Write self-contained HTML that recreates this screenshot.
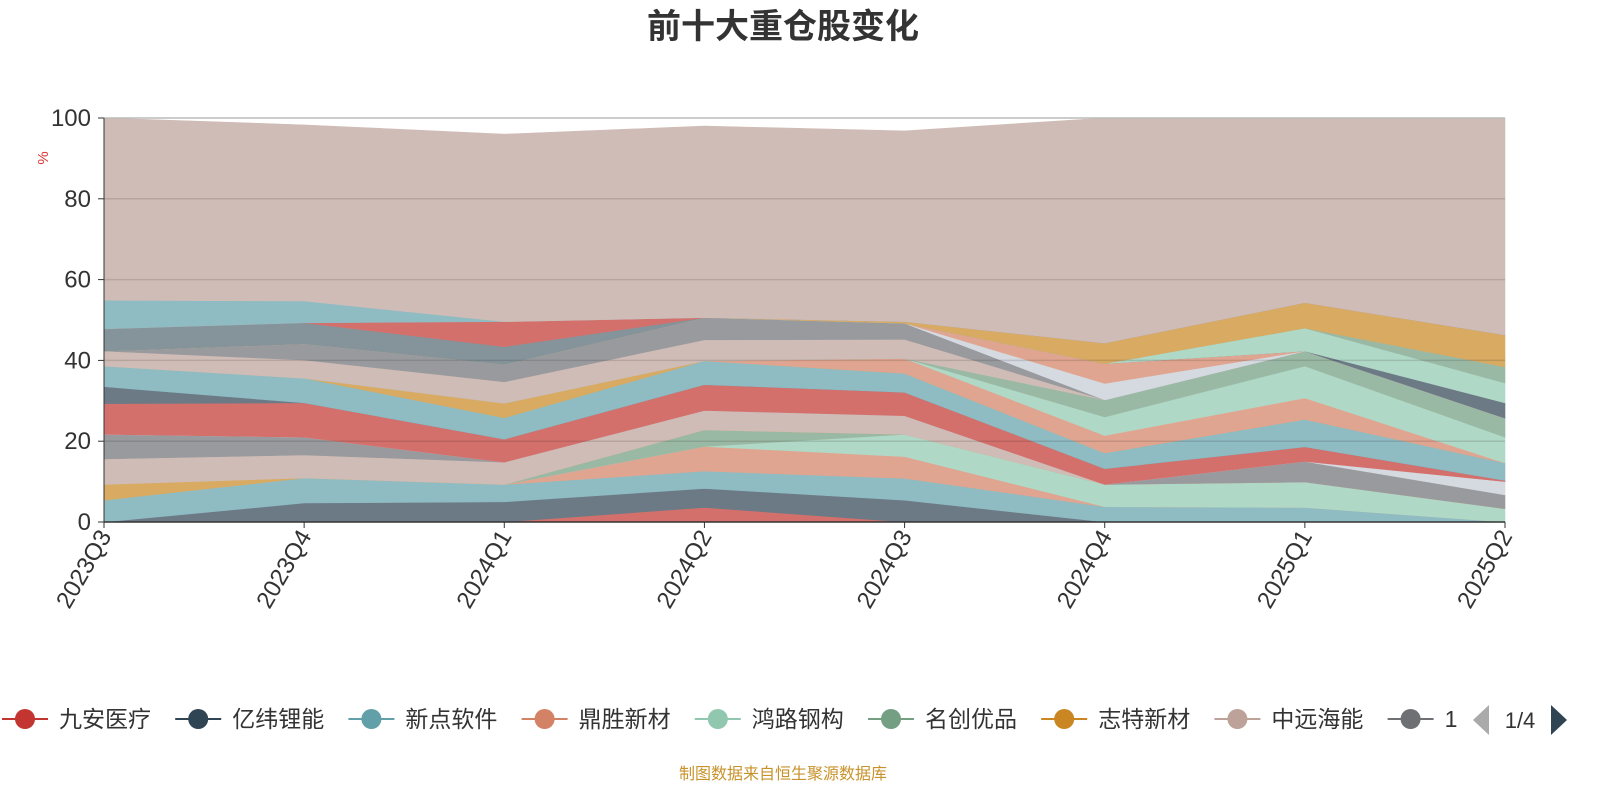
<!DOCTYPE html>
<html><head><meta charset="utf-8"><style>
body{margin:0;background:#fff;}
svg{display:block;font-family:"Liberation Sans","Noto Sans CJK SC",sans-serif;}
</style></head><body>
<svg id="chart" width="1600" height="800" viewBox="0 0 1600 800" xmlns="http://www.w3.org/2000/svg">
<text x="783" y="38" text-anchor="middle" font-size="34" font-weight="bold" fill="#333">前十大重仓股变化</text>
<text x="48" y="158" font-size="15" fill="#e03030" text-anchor="middle" transform="rotate(-90 48 158)">%</text>
<g id="areas"></g>
<g id="grid"></g>
<g id="axes"></g>
<g id="legend"></g>
<text x="783" y="779" text-anchor="middle" font-size="16" fill="#c8922a">制图数据来自恒生聚源数据库</text>
</svg>
<script>
const categories = ["2023Q3","2023Q4","2024Q1","2024Q2","2024Q3","2024Q4","2025Q1","2025Q2"];
const yTicks = [0,20,40,60,80,100];
const seriesNames = ["red1","dark1","teal1","salmon1","mint1","green1","orange1","pink1","gray1","white1","red2","dark2","teal2","orange2","salmon2","mint2","green2","pink2","gray2","white2","salmon3","slate2","mint3","green3","orange3","slate1","red3","teal3","top"];
const seriesColors = ["#d4706c","#6c7a86","#8fbbc2","#e0a590","#b0d8c6","#9ab9a4","#d8aa62","#d0bcb6","#999a9e","#d5d9e0","#d4706c","#6c7a86","#8fbbc2","#d8aa62","#e0a590","#b0d8c6","#9ab9a4","#d0bcb6","#999a9e","#d5d9e0","#e0a590","#6c7a86","#b0d8c6","#9ab9a4","#d8aa62","#85939b","#d4706c","#8fbbc2","#d0bcb6"];
const seriesValues = [
 [0,0,0,3.6,0,0,0,0],
 [0,4.7,5.0,4.7,5.4,0,0,0],
 [5.4,6.2,4.3,4.3,5.4,3.8,3.6,0],
 [0,0,0,6.1,5.4,0,0,0],
 [0,0,0,0,5.5,5.5,6.3,3.3],
 [0,0,0,4.1,0,0,0,0],
 [3.9,0,0,0,0,0,0,0],
 [6.3,5.7,5.5,4.8,4.6,0,0,0],
 [6.1,4.4,0,0,0,0,5.1,3.4],
 [0,0,0,0,0,0,0,3.3],
 [7.6,8.5,5.7,6.4,5.8,3.9,3.6,0.3],
 [4.2,0,0,0,0,0,0,0],
 [5.1,6.1,5.3,5.9,4.7,3.9,6.8,4.3],
 [0,0,3.6,0,0,0,0,0],
 [0,0,0,0,3.7,4.3,5.3,0],
 [0,0,0,0,0,4.6,7.9,6.4],
 [0,0,0,0,0,4.2,3.7,4.7],
 [3.7,4.5,5.3,5.2,4.7,0,0,0],
 [0,4.0,4.3,5.5,4.0,0,0,0],
 [0,0,0,0,0,4.1,0,0],
 [0,0,0,0,0,4.9,0,0],
 [0,0,0,0,0,0,0,3.8],
 [0,0,0,0,0,0,5.7,4.9],
 [0,0,0,0,0,0,0,4.0],
 [0,0,0,0,0.4,5.1,6.3,7.9],
 [5.5,5.2,4.4,0,0,0,0,0],
 [0,0,6.2,0,0,0,0,0],
 [7.1,5.4,0,0,0,0,0,0],
 [45.1,43.6,46.4,47.4,47.2,55.7,45.7,53.7]
];
const legendNames = ["九安医疗","亿纬锂能","新点软件","鼎胜新材","鸿路钢构","名创优品","志特新材","中远海能","1"];
const legendColors = ["#c23531","#2f4554","#61a0a8","#d48265","#91c7ae","#749f83","#ca8622","#bda29a","#6e7074"];

const NS="http://www.w3.org/2000/svg";
const X0=104,X1=1505,Y0=522,Y1=118;
function xPos(i){return X0+(X1-X0)*i/(categories.length-1);}
function yPos(v){return Y0-(Y0-Y1)*v/100;}
function mk(tag,attrs,parent){const e=document.createElementNS(NS,tag);for(const k in attrs)e.setAttribute(k,attrs[k]);parent.appendChild(e);return e;}

const areas=document.getElementById('areas');
let base=categories.map(()=>0);
seriesValues.forEach((vals,si)=>{
  const top=base.map((b,i)=>b+vals[i]);
  let d="M"+top.map((t,i)=>xPos(i)+","+yPos(t)).join(" L");
  for(let i=categories.length-1;i>=0;i--) d+=" L"+xPos(i)+","+yPos(base[i]);
  d+="Z";
  const p=mk('path',{d:d,fill:seriesColors[si],stroke:seriesColors[si],'stroke-width':0.6},areas);
  
  
  base=top;
});

const grid=document.getElementById('grid');
yTicks.forEach(t=>{
  if(t===0)return;
  const l=mk('line',{x1:X0,x2:X1,y1:yPos(t),y2:yPos(t),stroke:t===100?'#bbb':'rgba(0,0,0,0.12)','stroke-width':1.5},grid);
  
  
});

const axes=document.getElementById('axes');
const ya=mk('line',{x1:X0,x2:X0,y1:Y1,y2:Y0,stroke:'#333','stroke-width':1},axes);


yTicks.forEach(t=>{
  const tk=mk('line',{x1:X0-6,x2:X0,y1:yPos(t),y2:yPos(t),stroke:'#333'},axes);
  
  
  const tx=mk('text',{x:X0-13,y:yPos(t)+8,'text-anchor':'end','font-size':24,fill:'#333'},axes);
  tx.textContent=t;
  
  
});
const xa=mk('line',{x1:X0,x2:X1,y1:Y0,y2:Y0,stroke:'#333','stroke-width':1.5},axes);


categories.forEach((c,i)=>{
  const x=xPos(i);
  const tk=mk('line',{x1:x,x2:x,y1:Y0,y2:Y0+6,stroke:'#333'},axes);
  
  
  const tx=mk('text',{x:x+8,y:Y0+14,'text-anchor':'end','font-size':24,fill:'#333',transform:`rotate(-60 ${x+8} ${Y0+14})`},axes);
  tx.textContent=c;
  
  
});

const legend=document.getElementById('legend');
legendNames.forEach((n,i)=>{
  const cx=25+i*173.2, cy=719;
  const g=mk('g',{},legend);
  
  
  mk('line',{x1:cx-23,x2:cx+23,y1:cy,y2:cy,stroke:legendColors[i],'stroke-width':2},g);
  mk('circle',{cx:cx,cy:cy,r:10,fill:legendColors[i]},g);
  const t=mk('text',{x:cx+34,y:cy+8,'font-size':23,fill:'#333'},g);
  t.textContent=n;
});
const clip=mk('rect',{x:1458,y:700,width:142,height:40,fill:'#fff'},legend);


const pl=mk('polygon',{points:'1489,705 1489,735 1473,720',fill:'#aaa'},legend);


const pt=mk('text',{x:1520,y:728,'text-anchor':'middle','font-size':22,fill:'#333'},legend);
pt.textContent='1/4';


const pr=mk('polygon',{points:'1551,705 1551,735 1567,720',fill:'#2f4554'},legend);


</script>
</body></html>
